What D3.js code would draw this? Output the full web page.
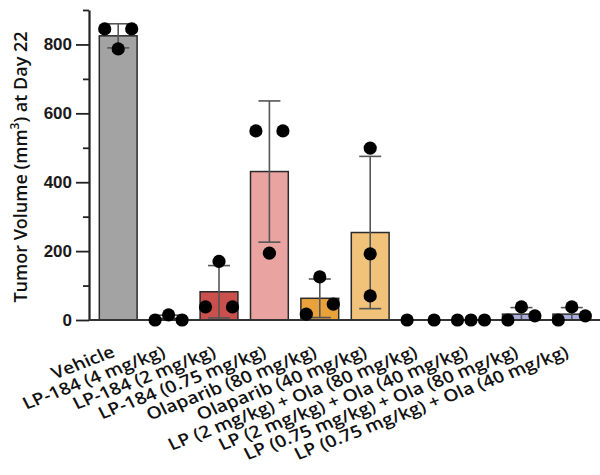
<!DOCTYPE html>
<html>
<head>
<meta charset="utf-8">
<script src="https://cdn.jsdelivr.net/npm/d3@7"></script>
<style>
  body { margin: 0; background: #fff; }
  text { font-family: "Open Sans", sans-serif; }
</style>
</head>
<body>
<div id="chart"></div>
<script>
// groups and values
const groups = ["Vehicle", "LP-184 (4 mg/kg)", "LP-184 (2 mg/kg)", "LP-184 (0.75 mg/kg)",
  "Olaparib (80 mg/kg)", "Olaparib (40 mg/kg)", "LP (2 mg/kg) + Ola (80 mg/kg)",
  "LP (2 mg/kg) + Ola (40 mg/kg)", "LP (0.75 mg/kg) + Ola (80 mg/kg)", "LP (0.75 mg/kg) + Ola (40 mg/kg)"];
const means = [825, 5, 82, 431, 63, 254, 0, 0, 17, 17];
const sds = [35, 9, 76, 205, 56, 221, 0, 0, 19, 19];
const points = [[845, 787, 845], [0, 15, 0], [38, 170, 38], [549, 194, 549], [17, 125, 46],
  [499, 192, 70], [0, 0], [0, 0, 0], [0, 38, 12], [0, 38, 12]];
// which side of the bar each dot sits on (-1 left, 0 middle, 1 right)
const lanes = [[-1, 0, 1], [-1, 0, 1], [-1, 0, 1], [-1, 0, 1], [-1, 0, 1],
  [0, 0, 0], [-1, 1], [-1, 0, 1], [-1, 0, 1], [-1, 0, 1]];
const colors = ["#a3a3a3", "#b33a36", "#c9504c", "#e9a3a1", "#e9a23b", "#f0c27a",
  "#9aa0d4", "#9aa0d4", "#a9aedc", "#a9aedc"];
const yTicks = [0, 200, 400, 600, 800];

const width = 600, height = 475;
const margin = {top: 10, right: 3, bottom: 155, left: 89};

let svg = d3.select("#chart").append("svg")
  .attr("width", width)
  .attr("height", height);

var x = d3.scaleBand()
  .domain(groups)
  .range([93, 597])
  .paddingInner(0.25)
  .paddingOuter(0.125);

var y = d3.scaleLinear()
  .domain([0, 900])
  .range([height - margin.bottom, margin.top]);

const y0 = y(0);

// bars
svg.append("g")
  .selectAll("rect")
  .data(groups)
  .enter()
  .append("rect")
    .attr("x", d => x(d))
    .attr("y", (d, i) => y(means[i]))
    .attr("width", x.bandwidth())
    .attr("height", (d, i) => y0 - y(means[i]))
    .attr("fill", (d, i) => colors[i])
    .attr("stroke", "#2a2a2a")
    .attr("stroke-width", 1.5);

// error bars (mean +/- SD)
let err = svg.append("g")
  .attr("stroke", "#555")
  .attr("stroke-width", 1.6);
groups.forEach(function (g, i) {
  if (sds[i] === 0) return;
  let cx = x(g) + x.bandwidth() / 2;
  let hi = y(means[i] + sds[i]);
  let lo = y(Math.max(0, means[i] - sds[i]));
  err.append("line").attr("x1", cx).attr("x2", cx).attr("y1", hi).attr("y2", lo);
  err.append("line").attr("x1", cx - 11).attr("x2", cx + 11).attr("y1", hi).attr("y2", hi);
  if (means[i] - sds[i] > 0)
    err.append("line").attr("x1", cx - 11).attr("x2", cx + 11).attr("y1", lo).attr("y2", lo);
});

// axes
let yAxis = svg.append("g")
  .attr("transform", `translate(${margin.left},0)`)
  .call(d3.axisLeft(y).tickValues(yTicks).tickSize(13).tickPadding(4).tickSizeOuter(0));
yAxis.select(".domain").attr("stroke", "#222").attr("stroke-width", 2.2);
yAxis.selectAll(".tick line").attr("stroke", "#222").attr("stroke-width", 1.8);
yAxis.selectAll(".tick text")
  .attr("fill", "#1a1a1a")
  .style("font-family", "'Liberation Sans', Arial, sans-serif")
  .style("font-weight", "bold")
  .style("font-size", "17px");

let minor = svg.append("g")
  .attr("transform", `translate(${margin.left},0)`)
  .call(d3.axisLeft(y).tickValues([100, 300, 500, 700, 900]).tickSize(6).tickFormat(""));
minor.select(".domain").remove();
minor.selectAll(".tick line").attr("stroke", "#222").attr("stroke-width", 1.8);

svg.append("line")
  .attr("x1", margin.left).attr("x2", width)
  .attr("y1", y0).attr("y2", y0)
  .attr("stroke", "#333")
  .attr("stroke-width", 2);

// dots
let dots = svg.append("g");
groups.forEach(function (g, i) {
  let cx = x(g) + x.bandwidth() / 2;
  points[i].forEach(function (v, j) {
    dots.append("circle")
      .attr("cx", cx + lanes[i][j] * 13.5)
      .attr("cy", y(v))
      .attr("r", 6.6)
      .attr("fill", "#000");
  });
});

// category labels (the source figure is a bit stretched sideways)
svg.append("g")
  .selectAll("text")
  .data(groups)
  .enter()
  .append("text")
    .attr("transform", d => `translate(${x(d) + x.bandwidth() / 2 - 2}, ${y0 + 36}) scale(1.15,1) rotate(-23.8)`)
    .style("text-anchor", "end")
    .style("font-size", "16.8px")
    .style("font-weight", 600)
    .attr("fill", "#111")
    .text(d => d);

// y title
let yt = svg.append("text")
  .attr("transform", `translate(27, ${(y(900) + y0) / 2 + 2}) rotate(-90)`)
  .style("text-anchor", "middle")
  .style("font-size", "18px")
  .style("font-weight", 600)
  .attr("fill", "#111");
yt.append("tspan").text("Tumor Volume (mm");
yt.append("tspan").attr("dy", -8).style("font-size", "12px").text("3");
yt.append("tspan").attr("dy", 8).text(") at Day 22");
</script>
</body>
</html>
